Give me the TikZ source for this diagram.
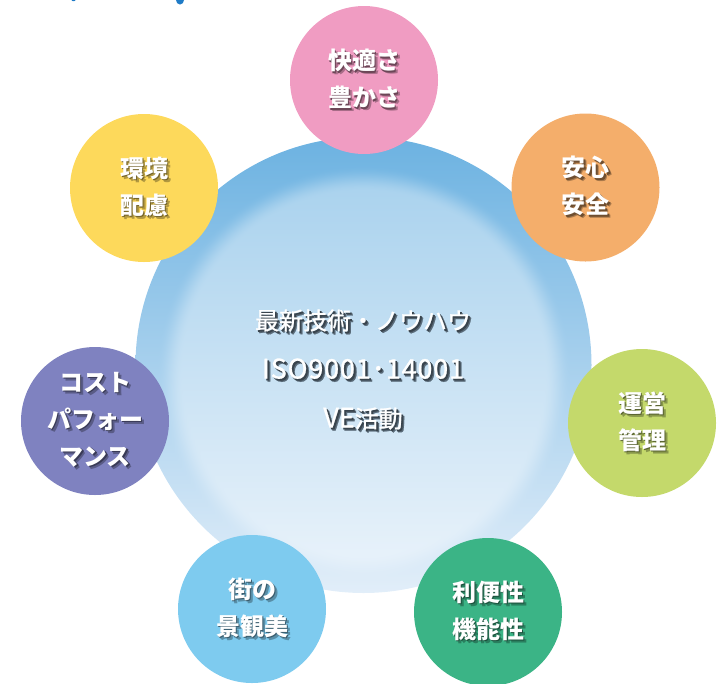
\documentclass[tikz,border=0pt]{standalone}
\usepackage{fontspec}
\newfontfamily\jp{Noto Sans CJK JP}
\newfontfamily\jpc{Noto Sans CJK JP}[FakeBold=0.8]
\definecolor{cpink}{HTML}{F09CC2}
\definecolor{corange}{HTML}{F4AE6B}
\definecolor{cyellow}{HTML}{FDD95B}
\definecolor{cpurple}{HTML}{7F82C0}
\definecolor{clime}{HTML}{C4D96B}
\definecolor{csky}{HTML}{7ECBEF}
\definecolor{cgreen}{HTML}{3BB486}
\definecolor{ctitle}{HTML}{1F7BC6}
\definecolor{coreshade}{HTML}{7F97AB}
% central disc: vertical gradient (6CB2E1 -> E2EEF9) lightened inside a soft-edged inner disc
\pgfdeclarefunctionalshading{coreglow}{\pgfpoint{0bp}{0bp}}{\pgfpoint{456bp}{456bp}}{}{
  exch 228 sub dup mul
  exch dup
  456 exch sub 456 div
  3 1 roll
  221 sub dup mul add sqrt
  206 exch sub 26 div
  dup abs add 2 div
  1 exch sub dup abs add 2 div 1 exch sub
  dup dup mul exch 2 mul 3 exch sub mul
  0.37 mul
  exch
  2 copy 0.4628 mul 0.4235 add dup 1 exch sub 3 -1 roll mul add 3 1 roll
  2 copy 0.2353 mul 0.6980 add dup 1 exch sub 3 -1 roll mul add 3 1 roll
  2 copy 0.0941 mul 0.8824 add dup 1 exch sub 3 -1 roll mul add 3 1 roll
  pop pop
}
\newcommand\shl[2]{% shadow base colour, one line of text
  \rlap{\kern3pt\raisebox{-3pt}{\color{#1!70!black}#2}}%
  \rlap{\kern1.8pt\raisebox{-1.8pt}{\color{#1!45!black}#2}}%
  #2}
\tikzset{
  x=1pt, y=-1pt,
  satellite/.style={circle, minimum size=148pt, inner sep=0pt, draw=none},
  lbl/.style={text=white, align=center, inner sep=0pt, font=\jp\bfseries\fontsize{24}{37}\selectfont},
  corelbl/.style={text=white, align=center, inner sep=0pt, font=\jpc\fontsize{24}{49}\selectfont},
}
\begin{document}
\begin{tikzpicture}
\useasboundingbox (0,0) rectangle (727,683);
\clip (0,0) rectangle (727,683);
% tiny fragments of a cut-off title at the top edge
\fill[ctitle] (73.5,0) ellipse (2 and 1.2);
\fill[ctitle] (180,0) ellipse (4 and 4.5);
% central circle
\node[circle, minimum size=456pt, inner sep=0pt] (core) at (363.5,365) {};
\begin{scope}
  \clip (core.center) circle (228);
  \node[inner sep=0pt] (coreshading) at (core.center) {\pgfuseshading{coreglow}};
\end{scope}
% satellites
\node[satellite, fill=cpink]   (pink)   at (364,80)  {};
\node[satellite, fill=corange] (orange) at (585.5,187.5) {};
\node[satellite, fill=cyellow] (yellow) at (144,188) {};
\node[satellite, fill=cpurple] (purple) at (95,421) {};
\node[satellite, fill=clime]   (lime)   at (642,423) {};
\node[satellite, fill=csky]    (sky)    at (252,609) {};
\node[satellite, fill=cgreen]  (green)  at (488,612) {};
% labels
\node[lbl] (tpink)   at (pink)   {\shl{cpink}{快適さ}\\\shl{cpink}{豊かさ}};
\node[lbl] (torange) at (orange) {\shl{corange}{安心}\\\shl{corange}{安全}};
\node[lbl] (tyellow) at (yellow) {\shl{cyellow}{環境}\\\shl{cyellow}{配慮}};
\node[lbl] (tpurple) at (purple) {\shl{cpurple}{コスト}\\\shl{cpurple}{パフォー}\\\shl{cpurple}{マンス}};
\node[lbl] (tlime)   at (lime)   {\shl{clime}{運営}\\\shl{clime}{管理}};
\node[lbl] (tsky)    at (sky)    {\shl{csky}{街の}\\\shl{csky}{景観美}};
\node[lbl] (tgreen)  at (green)  {\shl{cgreen}{利便性}\\\shl{cgreen}{機能性}};
\node[corelbl] (tcore) at (363,371) {\shl{coreshade}{最新技術・ノウハウ}\\
  \shl{coreshade}{{\fontsize{27}{49}\selectfont\addfontfeatures{LetterSpace=3}ISO9001･14001}}\\
  \shl{coreshade}{{\fontsize{27}{49}\selectfont VE}活動}};
\end{tikzpicture}
\end{document}
